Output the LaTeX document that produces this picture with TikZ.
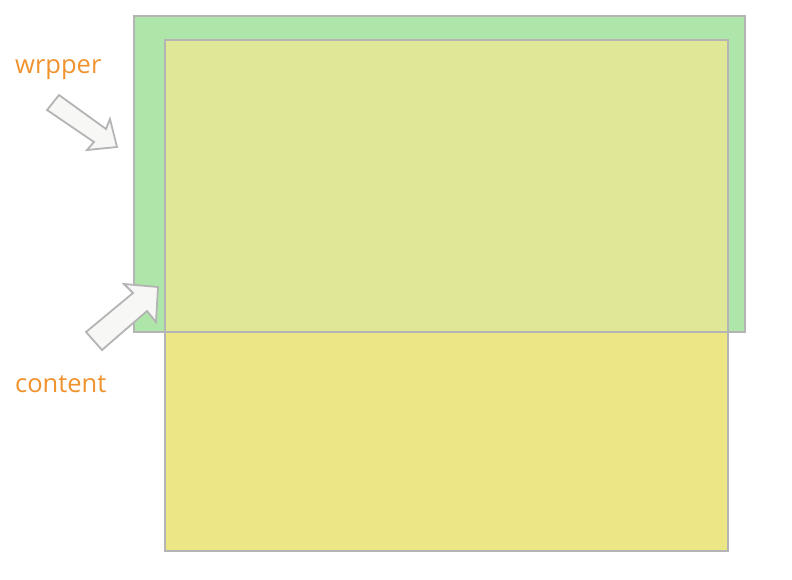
\documentclass[tikz,border=0pt]{standalone}
\usepackage{fontspec}
\setmainfont{Open Sans}
\definecolor{wgreen}{HTML}{AEE5A8}
\definecolor{cyellow}{HTML}{ECE784}
\definecolor{overlap}{HTML}{E0E796}
\definecolor{edge}{HTML}{B4B4B4}
\definecolor{lbl}{HTML}{F0922E}
\definecolor{arrfill}{HTML}{F7F7F5}
\begin{document}
\begin{tikzpicture}[x=1pt,y=-1pt,
  box/.style={draw=edge,line width=1.8pt},
  blockarrow/.style={draw=edge,fill=arrfill,line width=1.8pt,line join=miter},
  label/.style={text=lbl,font=\fontsize{25.5}{30}\selectfont,inner sep=0pt}]
\useasboundingbox (0,0) rectangle (792,579);
% fills
\fill[wgreen] (134,16) rectangle (745,332);
\fill[cyellow] (165,40) rectangle (728,551);
\fill[overlap] (165,40) rectangle (728,332);
% outlines
\draw[box] (134,16) rectangle (745,332);
\draw[box] (165,40) rectangle (728,551);
% wrapper arrow
\draw[blockarrow] (47,110) -- (59,95) -- (106,129) -- (110,119) -- (117,147) -- (87,150) -- (94,142) -- cycle;
% content arrow
\draw[blockarrow] (86,332) -- (102,350) -- (147,311) -- (156,322) -- (158,287) -- (124,284) -- (133,293) -- cycle;
% labels
\node[label,anchor=base west] (wrp) at (15,73) {wrpper};
\node[label,anchor=base west] (cnt) at (15,392) {content};
\end{tikzpicture}
\end{document}
